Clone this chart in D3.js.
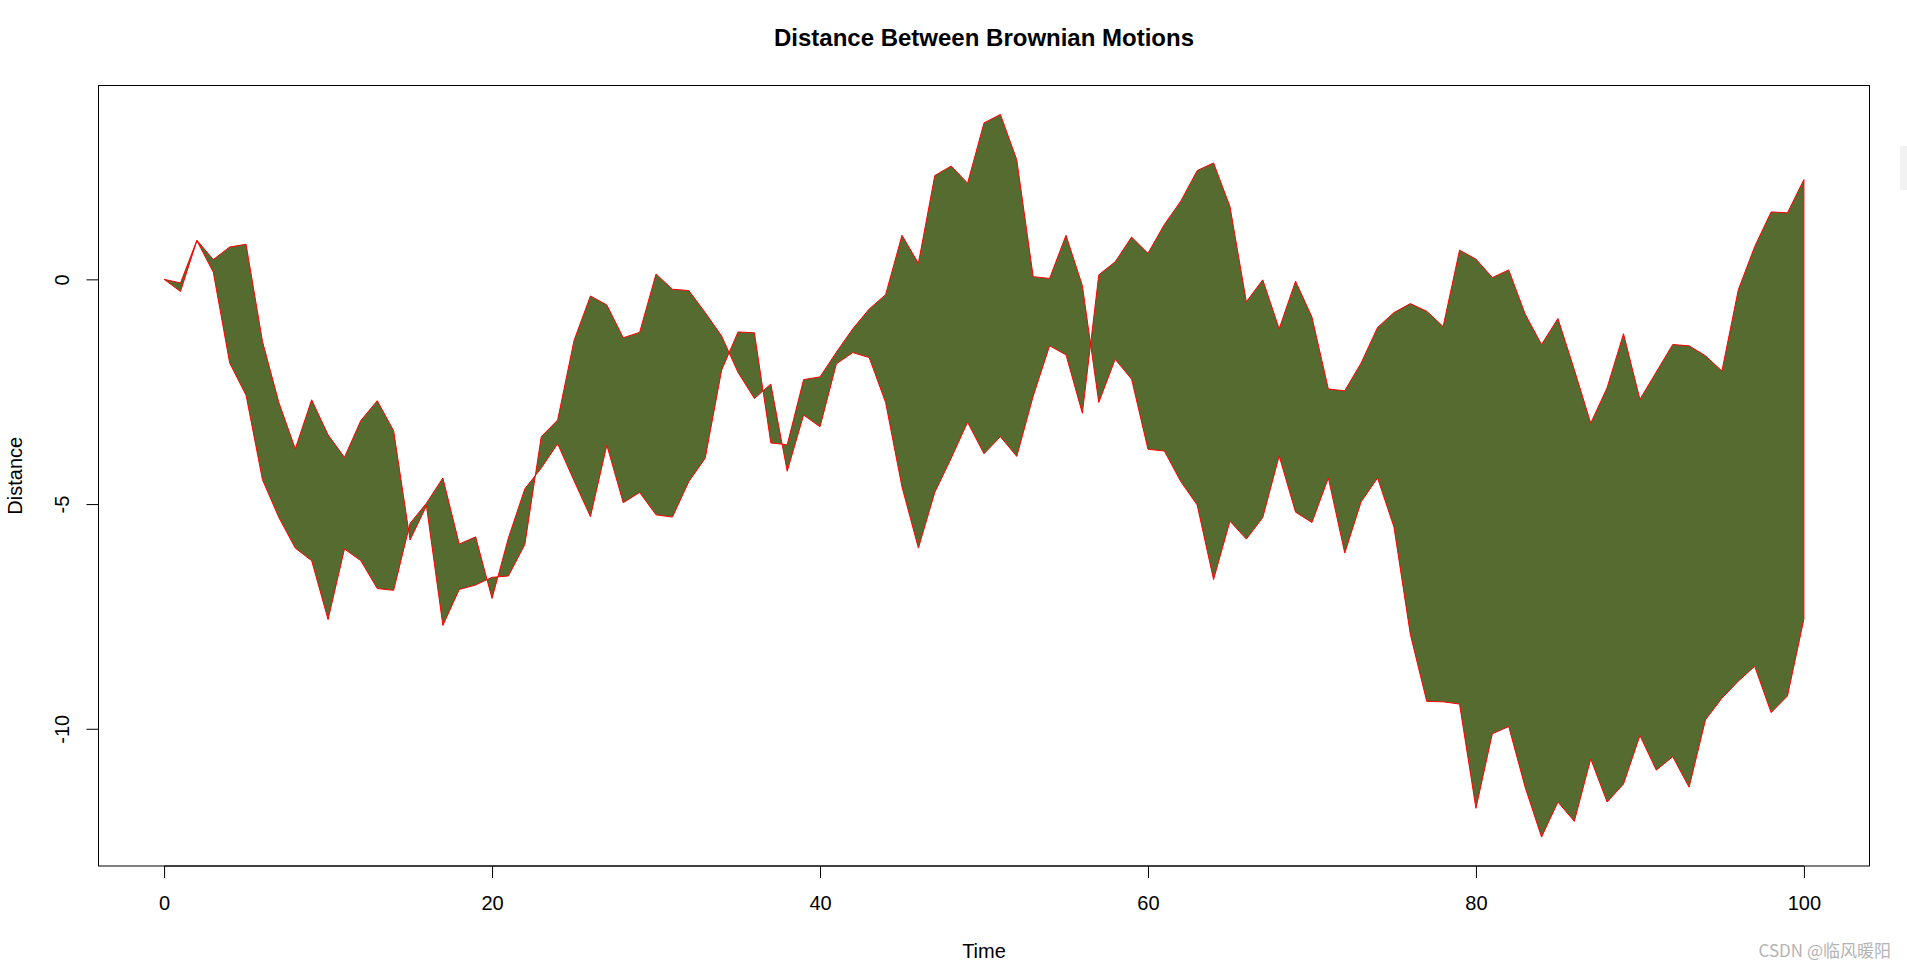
<!DOCTYPE html>
<html>
<head>
<meta charset="utf-8">
<script src="https://cdn.jsdelivr.net/npm/d3@7"></script>
<style>
  body { margin: 0; background: #ffffff; }
</style>
</head>
<body>
<script>
// ---- data (two Brownian paths, step 0..100)
var time = [0,1,2,3,4,5,6,7,8,9,10,11,12,13,14,15,16,17,18,19,20,21,22,23,24,25,26,27,28,29,30,
  31,32,33,34,35,36,37,38,39,40,41,42,43,44,45,46,47,48,49,50,51,52,53,54,55,56,57,58,59,60,
  61,62,63,64,65,66,67,68,69,70,71,72,73,74,75,76,77,78,79,80,81,82,83,84,85,86,87,88,89,90,
  91,92,93,94,95,96,97,98,99,100];

var pathX = [0, -0.08, 0.87, 0.44, 0.72, 0.78, -1.38, -2.74, -3.77, -2.68, -3.46,
  -3.96, -3.14, -2.70, -3.37, -5.80, -5.04, -7.70, -6.90, -6.80, -6.63,
  -6.60, -5.90, -3.50, -3.13, -1.36, -0.37, -0.57, -1.30, -1.18, 0.12,
  -0.22, -0.25, -0.74, -1.26, -2.07, -2.65, -2.33, -4.27, -3.02, -3.28,
  -1.88, -1.63, -1.74, -2.74, -4.62, -5.98, -4.74, -3.98, -3.18, -3.88,
  -3.50, -3.94, -2.60, -1.48, -1.68, -2.98, 0.10, 0.39, 0.94, 0.58,
  1.22, 1.74, 2.42, 2.59, 1.62, -0.50, -0.01, -1.10, -0.04, -0.84,
  -2.44, -2.48, -1.86, -1.07, -0.74, -0.54, -0.71, -1.05, 0.65, 0.45,
  0.04, 0.21, -0.77, -1.45, -0.87, -2.01, -3.20, -2.41, -1.21, -2.67,
  -2.06, -1.45, -1.48, -1.70, -2.04, -0.23, 0.73, 1.50, 1.48, 2.22];

var pathY = [0, -0.27, 0.86, 0.16, -1.86, -2.58, -4.46, -5.30, -5.98, -6.26, -7.57,
  -6.00, -6.26, -6.88, -6.92, -5.43, -4.98, -4.42, -5.89, -5.73, -7.10,
  -5.75, -4.66, -4.20, -3.66, -4.48, -5.28, -3.69, -4.97, -4.74, -5.24,
  -5.29, -4.50, -3.98, -2.02, -1.17, -1.19, -3.64, -3.68, -2.23, -2.17,
  -1.62, -1.10, -0.66, -0.34, 0.98, 0.36, 2.31, 2.52, 2.14, 3.48,
  3.67, 2.66, 0.06, 0.02, 0.98, -0.14, -2.74, -1.78, -2.22, -3.78,
  -3.82, -4.50, -5.02, -6.68, -5.38, -5.78, -5.30, -3.93, -5.18, -5.41,
  -4.42, -6.09, -4.95, -4.42, -5.51, -7.90, -9.39, -9.40, -9.45, -11.77,
  -10.11, -9.95, -11.30, -12.41, -11.63, -12.06, -10.67, -11.63, -11.23, -10.15,
  -10.92, -10.62, -11.30, -9.80, -9.32, -8.94, -8.61, -9.64, -9.27, -7.56];

var xTicks = [0, 20, 40, 60, 80, 100];
var yTicks = [-10, -5, 0];

var fill_col = "#556B2F";
var line_col = "red";
var font = "'Liberation Sans', Arial, Helvetica, sans-serif";

// ---- board
var W = 1907, H = 970;
var plot = { left: 98.5, right: 1869.5, top: 85.5, bottom: 866 };

var svg = d3.select("body").append("svg")
  .attr("width", W)
  .attr("height", H)
  .style("display", "block")
  .style("background", "#ffffff");

// R style axis ranges: data range plus 4% each side
function padded(lo, hi) {
  var e = (hi - lo) * 0.04;
  return [lo - e, hi + e];
}
var allVals = pathX.concat(pathY);

var x = d3.scaleLinear()
  .domain(padded(d3.min(time), d3.max(time)))
  .range([plot.left, plot.right]);

var y = d3.scaleLinear()
  .domain(padded(d3.min(allVals), d3.max(allVals)))
  .range([plot.bottom, plot.top]);

// ---- polygon: first path forward, second path back
var pts = time.map(function (t, i) { return [x(t), y(pathX[i])]; })
  .concat(time.slice().reverse().map(function (t, j) {
    var i = time.length - 1 - j;
    return [x(t), y(pathY[i])];
  }));

svg.append("path")
  .attr("d", d3.line()(pts) + "Z")
  .style("fill", fill_col)
  .style("stroke", line_col)
  .style("stroke-width", 1)
  .style("stroke-linejoin", "round");

// ---- box
svg.append("rect")
  .attr("x", plot.left)
  .attr("y", plot.top)
  .attr("width", plot.right - plot.left)
  .attr("height", plot.bottom - plot.top)
  .style("fill", "none")
  .style("stroke", "#000")
  .style("stroke-width", 1);

// plain hyphen for negatives, like R
var fmt = function (d) { return String(d); };

// ---- x axis
var xAxis = svg.append("g")
  .attr("transform", "translate(0," + plot.bottom + ")")
  .call(d3.axisBottom(x).tickValues(xTicks).tickSize(12).tickPadding(18).tickFormat(fmt));
xAxis.select(".domain")
  .attr("d", "M" + x(xTicks[0]) + ",0H" + x(xTicks[xTicks.length - 1]));
xAxis.selectAll("text")
  .style("font-family", font)
  .style("font-size", "20px")
  .style("fill", "#000");

// ---- y axis (labels turned, R style)
var yAxis = svg.append("g")
  .attr("transform", "translate(" + plot.left + ",0)")
  .call(d3.axisLeft(y).tickValues(yTicks).tickSize(12).tickFormat(fmt));
yAxis.select(".domain")
  .attr("d", "M0," + y(yTicks[0]) + "V" + y(yTicks[yTicks.length - 1]));
yAxis.selectAll("text")
  .attr("x", null)
  .attr("dy", null)
  .attr("transform", "translate(-37,0) rotate(-90)")
  .style("text-anchor", "middle")
  .style("dominant-baseline", "central")
  .style("font-family", font)
  .style("font-size", "20px")
  .style("fill", "#000");

// ---- titles
svg.append("text")
  .text("Distance Between Brownian Motions")
  .attr("x", (plot.left + plot.right) / 2)
  .attr("y", 46)
  .style("text-anchor", "middle")
  .style("font-family", font)
  .style("font-weight", "bold")
  .style("font-size", "24px");

svg.append("text")
  .text("Time")
  .attr("x", (plot.left + plot.right) / 2)
  .attr("y", 958)
  .style("text-anchor", "middle")
  .style("font-family", font)
  .style("font-size", "20px");

svg.append("text")
  .text("Distance")
  .attr("transform", "translate(15," + ((plot.top + plot.bottom) / 2) + ") rotate(-90)")
  .style("text-anchor", "middle")
  .style("dominant-baseline", "central")
  .style("font-family", font)
  .style("font-size", "20px");

// ---- watermark
svg.append("text")
  .text("CSDN @临风暖阳")
  .attr("x", 1891)
  .attr("y", 957)
  .style("text-anchor", "end")
  .style("font-family", "'Noto Sans CJK SC', " + font)
  .style("font-size", "17px")
  .style("fill", "#b4b4b4");

// faint scroll handle at the right edge of the screenshot
svg.append("rect")
  .attr("x", 1900)
  .attr("y", 146)
  .attr("width", 7)
  .attr("height", 44)
  .style("fill", "#f2f2f2");
</script>
</body>
</html>
